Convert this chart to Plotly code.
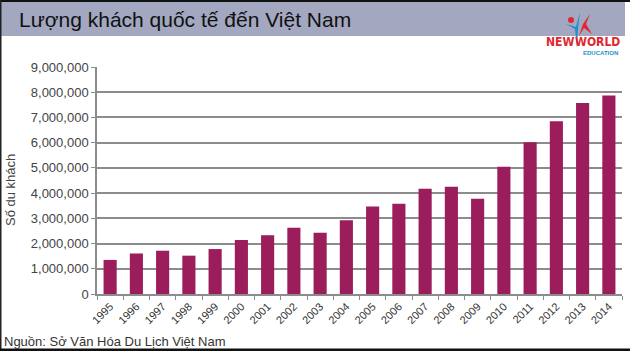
import plotly.graph_objects as go

years = [str(y) for y in range(1995, 2015)]
visitors = [1351000, 1607000, 1716000, 1520000, 1782000, 2140000, 2330000, 2628000,
            2429000, 2927000, 3468000, 3583000, 4172000, 4254000, 3772000, 5050000,
            6014000, 6848000, 7572000, 7874000]
y_ticks = list(range(0, 9000001, 1000000))
y_tick_labels = [f"{v:,}" for v in y_ticks]

title_text = "Lượng khách quốc tế đến Việt Nam"
y_title = "Số du khách"
source_text = "Nguồn: Sở Văn Hóa Du Lịch Việt Nam"

W, H = 630, 351
ML, MR, MT, MB = 97, 8, 67, 57
PW, PH = W - ML - MR, H - MT - MB


def xp(px):
    return (px - ML) / PW


def yp(py):
    return (H - MB - py) / PH


FONT = "Liberation Sans, Arial, sans-serif"
LOGO_FONT = "DejaVu Sans Condensed, sans-serif"

fig = go.Figure(go.Bar(
    x=years, y=visitors, marker=dict(color="#9b1d5b", line=dict(width=0)),
    width=0.5,
))

shapes = [
    # header band
    dict(type="rect", xref="paper", yref="paper", x0=xp(0), x1=xp(625), y0=yp(36), y1=yp(2),
         fillcolor="#a3a7c0", line=dict(width=0), layer="below"),
    # borders
    dict(type="rect", xref="paper", yref="paper", x0=xp(0), x1=xp(630), y0=yp(2), y1=yp(0),
         fillcolor="#111", line=dict(width=0)),
    dict(type="rect", xref="paper", yref="paper", x0=xp(0), x1=xp(1.5), y0=yp(351), y1=yp(0),
         fillcolor="#222", line=dict(width=0)),
    dict(type="rect", xref="paper", yref="paper", x0=xp(0), x1=xp(630), y0=yp(351), y1=yp(348.5),
         fillcolor="#111", line=dict(width=0)),
    # logo star (red) and figure (blue)
    dict(type="path", xref="paper", yref="paper",
         path=f"M {xp(579)} {yp(36)} L {xp(583)} {yp(24)} L {xp(590)} {yp(14)} L {xp(586)} {yp(24)} "
              f"L {xp(592)} {yp(34)} L {xp(584)} {yp(28)} Z",
         fillcolor="#e0282e", line=dict(width=0)),
    dict(type="path", xref="paper", yref="paper",
         path=f"M {xp(566)} {yp(24)} L {xp(576)} {yp(27)} L {xp(580)} {yp(12)} L {xp(578)} {yp(28)} "
              f"L {xp(577)} {yp(48)} L {xp(575)} {yp(29)} Z",
         fillcolor="#1e8fd0", line=dict(width=0)),
    dict(type="circle", xref="paper", yref="paper", x0=xp(568), x1=xp(574), y0=yp(23), y1=yp(17),
         fillcolor="#e0282e", line=dict(width=0)),
]

annotations = [
    dict(text=title_text, xref="paper", yref="paper", x=xp(17), y=yp(20), xanchor="left",
         yanchor="middle", showarrow=False, font=dict(family=FONT, size=21, color="#111")),
    dict(text="<b>NEW</b>", xref="paper", yref="paper", x=xp(576), y=yp(42), xanchor="right",
         yanchor="middle", showarrow=False, font=dict(family=LOGO_FONT, size=12, color="#e0282e")),
    dict(text="<b>WORLD</b>", xref="paper", yref="paper", x=xp(622), y=yp(42), xanchor="right",
         yanchor="middle", showarrow=False, font=dict(family=LOGO_FONT, size=12, color="#e0282e")),
    dict(text="<b>EDUCATION</b>", xref="paper", yref="paper", x=xp(620), y=yp(53), xanchor="right",
         yanchor="middle", showarrow=False, font=dict(family=FONT, size=6, color="#1e8fd0")),
    dict(text=y_title, xref="paper", yref="paper", x=xp(10), y=yp(190), xanchor="center",
         yanchor="middle", textangle=-90, showarrow=False, font=dict(family=FONT, size=13, color="#444")),
    dict(text=source_text, xref="paper", yref="paper", x=xp(2), y=yp(341), xanchor="left",
         yanchor="middle", showarrow=False, font=dict(family=FONT, size=13, color="#333")),
]

fig.update_layout(
    width=W, height=H,
    margin=dict(l=ML, r=MR, t=MT, b=MB),
    paper_bgcolor="white", plot_bgcolor="white",
    showlegend=False,
    bargap=0.5,
    shapes=shapes,
    annotations=annotations,
    xaxis=dict(
        type="category", tickangle=-45, tickfont=dict(family=FONT, size=11, color="#333"),
        showline=True, linecolor="#8c8c8c", linewidth=1.5,
        ticks="outside", tickson="boundaries", ticklen=4, tickcolor="#8c8c8c",
        showgrid=False,
    ),
    yaxis=dict(
        range=[0, 9000000], tickvals=y_ticks, ticktext=y_tick_labels,
        tickfont=dict(family=FONT, size=13, color="#444"),
        showgrid=True, gridcolor="#8c8c8c", gridwidth=1.5,
        showline=True, linecolor="#8c8c8c", linewidth=1.5,
        ticks="outside", ticklen=4, tickcolor="#8c8c8c",
        zeroline=False,
    ),
)

fig.write_html("out.html")
